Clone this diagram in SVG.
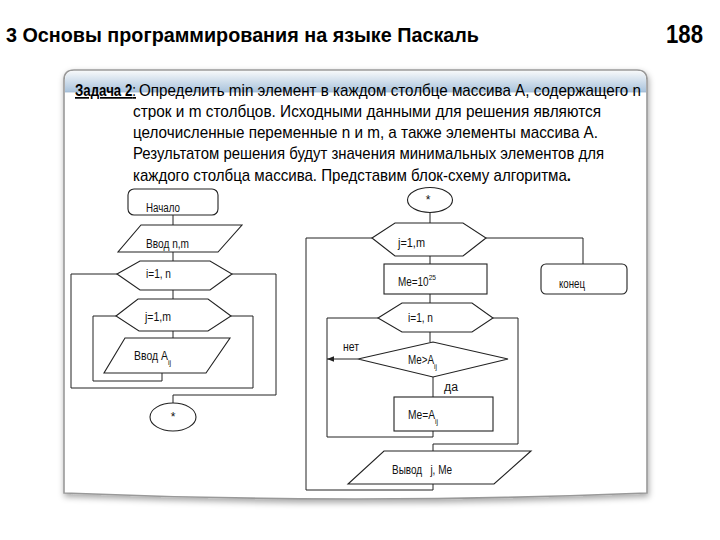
<svg xmlns="http://www.w3.org/2000/svg" width="720" height="540" viewBox="0 0 720 540">
<defs>
<linearGradient id="hdr" x1="0" y1="0" x2="0" y2="1"><stop offset="0" stop-color="#f6f8fa"/><stop offset="1" stop-color="#a9c3dc"/></linearGradient>
<filter id="sh" x="-5%" y="-5%" width="110%" height="115%"><feDropShadow dx="1" dy="3" stdDeviation="3" flood-color="#000" flood-opacity="0.35"/></filter>
<marker id="arr" viewBox="0 0 10 10" refX="10" refY="5" markerWidth="7" markerHeight="7" orient="auto-start-reverse"><path d="M0,1 L10,5 L0,9 z" fill="#222"/></marker>
</defs>
<style>
.sh{fill:#fff;stroke:#222;stroke-width:1.1}
.ln{fill:none;stroke:#222;stroke-width:1}
.lb{font-family:"Liberation Sans",Arial,sans-serif;font-size:12px;fill:#111}
.sub{font-size:8px}
.tx{font-family:"Liberation Sans",Arial,sans-serif;font-size:17px;fill:#000}
.ti{font-family:"Liberation Sans",Arial,sans-serif;font-weight:bold;fill:#000}
</style>
<rect width="720" height="540" fill="#fff"/>
<text class="ti" x="6" y="42" font-size="21" textLength="473" lengthAdjust="spacingAndGlyphs">3 Основы программирования на языке Паскаль</text>
<text class="ti" x="703" y="43" font-size="25" text-anchor="end" textLength="37" lengthAdjust="spacingAndGlyphs">188</text>
<g id="frame">
<path d="M64,80 Q64,70 74,70 L637,70 Q647,70 647,80 L647,493 Q355,505 64,493 Z" fill="#fff" stroke="#999" stroke-width="1.6" filter="url(#sh)"/>
<path d="M65,92 L65,80 Q65,71 74,71 L637,71 Q646,71 646,80 L646,92 Z" fill="url(#hdr)"/>
<line x1="65" y1="92" x2="646" y2="92" stroke="#9fb8d0" stroke-width="0.8"/>
</g>
<g id="task">
<text class="tx" x="75" y="96" text-decoration="underline" textLength="61" lengthAdjust="spacingAndGlyphs"><tspan font-weight="bold">Задача 2</tspan>:</text>
<text class="tx" x="139" y="96" textLength="502" lengthAdjust="spacingAndGlyphs">Определить min элемент в каждом столбце массива А, содержащего n</text>
<text class="tx" x="133" y="117" textLength="468" lengthAdjust="spacingAndGlyphs">строк и m столбцов. Исходными данными для решения являются</text>
<text class="tx" x="133" y="138" textLength="465" lengthAdjust="spacingAndGlyphs">целочисленные переменные n и m, а также элементы массива А.</text>
<text class="tx" x="133" y="159" textLength="471" lengthAdjust="spacingAndGlyphs">Результатом решения будут значения минимальных элементов для</text>
<text class="tx" x="133" y="181" textLength="438" lengthAdjust="spacingAndGlyphs">каждого столбца массива. Представим блок-схему алгоритма<tspan font-weight="bold">.</tspan></text>
</g>
<g id="connectors">
<polyline class="ln" points="173,215 173,225"/>
<polyline class="ln" points="173,252 173,261"/>
<polyline class="ln" points="173,290 173,299"/>
<polyline class="ln" points="173,331 173,338"/>
<polyline class="ln" points="162,373 162,381 93,381 93,316 116,316"/>
<polyline class="ln" points="231,316 253,316 253,388 71,388 71,274 117,274"/>
<polyline class="ln" points="232,274 276,274 276,395 173,395 173,403"/>
<polyline class="ln" points="430,213 430,223"/>
<polyline class="ln" points="430,256 430,264"/>
<polyline class="ln" points="430,294 430,303"/>
<polyline class="ln" points="486,238 583,238 583,264"/>
<polyline class="ln" points="430,332 430,342"/>
<polyline class="ln" points="358,359 327,359" marker-end="url(#arr)"/>
<polyline class="ln" points="433,377 433,397"/>
<polyline class="ln" points="433,431 433,437 327,437 327,318 378,318"/>
<polyline class="ln" points="493,318 518,318 518,444 433,444 433,451"/>
<polyline class="ln" points="433,484 433,490 306,490 306,238 372,238"/>
</g>
<g id="start">
<rect class="sh" x="128" y="189" width="90" height="26" rx="6"/>
<text class="lb" x="146" y="212" textLength="34" lengthAdjust="spacingAndGlyphs">Начало</text>
</g>
<g id="input-nm">
<polygon class="sh" points="141,225 242,225 218,252 118,252"/>
<text class="lb" x="146" y="248" textLength="43" lengthAdjust="spacingAndGlyphs">Ввод n,m</text>
</g>
<g id="loop-i">
<polygon class="sh" points="117,274 140,261 210,261 232,274 210,290 140,290"/>
<text class="lb" x="146" y="278" textLength="25" lengthAdjust="spacingAndGlyphs">i=1, n</text>
</g>
<g id="loop-j">
<polygon class="sh" points="116,316 138,299 208,299 231,316 208,331 139,331"/>
<text class="lb" x="145" y="321" textLength="26" lengthAdjust="spacingAndGlyphs">j=1,m</text>
</g>
<g id="input-a">
<polygon class="sh" points="125,338 230,338 206,373 104,373"/>
<text class="lb" x="134" y="360" textLength="37" lengthAdjust="spacingAndGlyphs">Ввод A<tspan class="sub" dy="5">ij</tspan></text>
</g>
<g id="conn-left">
<ellipse class="sh" cx="173" cy="417" rx="23" ry="14"/>
<text class="lb" x="173" y="421" text-anchor="middle">*</text>
</g>
<g id="conn-right">
<ellipse class="sh" cx="430" cy="200" rx="22.5" ry="12.5"/>
<text class="lb" x="428" y="204" text-anchor="middle">*</text>
</g>
<g id="loop-j2">
<polygon class="sh" points="372,238 395,223 463,223 486,238 463,256 395,256"/>
<text class="lb" x="398" y="247" textLength="27" lengthAdjust="spacingAndGlyphs">j=1,m</text>
</g>
<g id="init-me">
<rect class="sh" x="384" y="264" width="103" height="30"/>
<text class="lb" x="398" y="286" textLength="38" lengthAdjust="spacingAndGlyphs">Me=10<tspan class="sub" dy="-6">25</tspan></text>
</g>
<g id="end">
<rect class="sh" x="541" y="264" width="86" height="30" rx="5"/>
<text class="lb" x="559" y="288" textLength="26" lengthAdjust="spacingAndGlyphs">конец</text>
</g>
<g id="loop-i2">
<polygon class="sh" points="378,318 402,303 472,303 493,318 472,332 402,332"/>
<text class="lb" x="408" y="322" textLength="25" lengthAdjust="spacingAndGlyphs">i=1, n</text>
</g>
<g id="cond">
<polygon class="sh" points="358,359 433,342 508,359 433,377"/>
<text class="lb" x="408" y="364" textLength="29" lengthAdjust="spacingAndGlyphs">Me&gt;A<tspan class="sub" dy="5">ij</tspan></text>
<text class="lb" x="343" y="351" textLength="16" lengthAdjust="spacingAndGlyphs">нет</text>
<text class="lb" x="444" y="391" textLength="14" lengthAdjust="spacingAndGlyphs">да</text>
</g>
<g id="assign">
<rect class="sh" x="394" y="397" width="99" height="34"/>
<text class="lb" x="408" y="419" textLength="30" lengthAdjust="spacingAndGlyphs">Me=A<tspan class="sub" dy="5">ij</tspan></text>
</g>
<g id="output">
<polygon class="sh" points="384,451 531,451 494,484 348,484"/>
<text class="lb" x="392" y="474" textLength="60" lengthAdjust="spacingAndGlyphs" xml:space="preserve">Вывод   j, Me</text>
</g>
</svg>
